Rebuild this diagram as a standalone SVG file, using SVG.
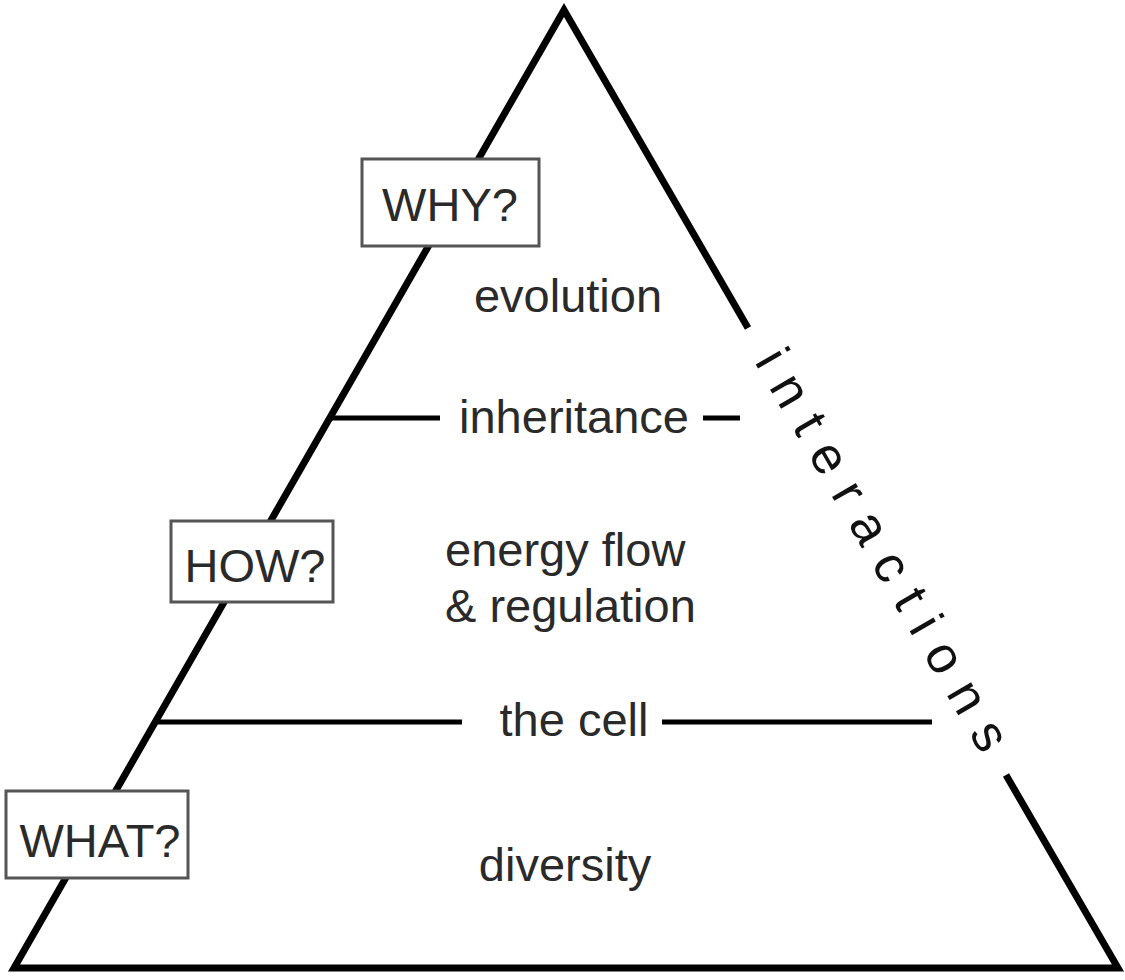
<svg xmlns="http://www.w3.org/2000/svg" width="1125" height="980" viewBox="0 0 1125 980">
<style>
.edge{fill:none;stroke:#000;stroke-width:7;stroke-linejoin:miter;stroke-linecap:butt}
.div{fill:none;stroke:#000;stroke-width:5;stroke-linecap:butt}
.box{fill:#fff;stroke:#555;stroke-width:3}
.t{font-family:"Liberation Sans",Arial,sans-serif;font-size:47px;fill:#2a2a2a}
.c{text-anchor:middle}
.i{font-size:52px;fill:#111}
</style>
<rect width="1125" height="980" fill="#fff"/>
<g id="connectors">
<path class="edge" d="M748,328 L564,10 L14,968 L1118,968 L1006,775"/>
<line class="div" x1="330" y1="418" x2="440" y2="418"/>
<line class="div" x1="703" y1="418" x2="740" y2="418"/>
<line class="div" x1="155" y1="722" x2="462" y2="722"/>
<line class="div" x1="662" y1="722" x2="932" y2="722"/>
</g>
<g id="why">
<rect class="box" x="362" y="159" width="177" height="87"/>
<text class="t c" x="450" y="221">WHY?</text>
</g>
<g id="how">
<rect class="box" x="171" y="521" width="162" height="81"/>
<text class="t c" x="255" y="582">HOW?</text>
</g>
<g id="what">
<rect class="box" x="6" y="791" width="182" height="87"/>
<text class="t c" x="100" y="857">WHAT?</text>
</g>
<g id="evolution"><text class="t c" x="568" y="312">evolution</text></g>
<g id="inheritance"><text class="t c" x="574" y="433">inheritance</text></g>
<g id="energy">
<text class="t" x="445" y="566">energy flow</text>
<text class="t" x="445" y="622">&amp; regulation</text>
</g>
<g id="cell"><text class="t c" x="574" y="736">the cell</text></g>
<g id="diversity"><text class="t c" x="565" y="881">diversity</text></g>
<g id="interactions">
<text class="t c i" transform="translate(879,552) rotate(60)" x="0" y="13" textLength="455" lengthAdjust="spacing">interactions</text>
</g>
</svg>
